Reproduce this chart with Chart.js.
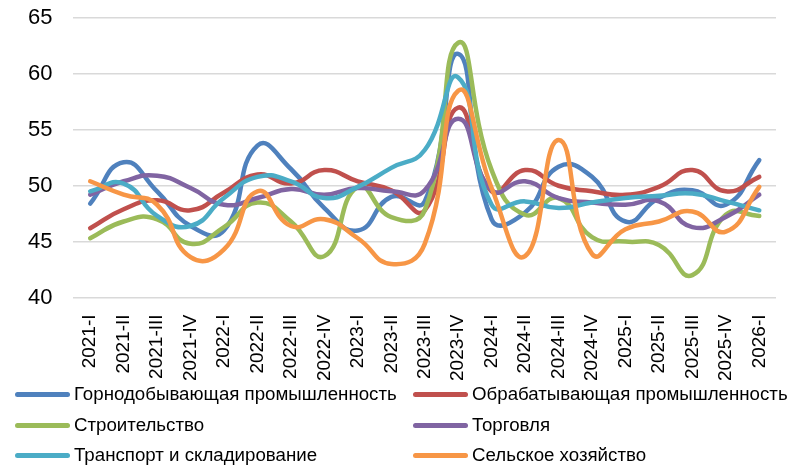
<!DOCTYPE html>
<html>
<head>
<meta charset="utf-8">
<script src="https://cdn.jsdelivr.net/npm/chart.js@4/dist/chart.umd.min.js"></script>
<style>
  html, body { margin: 0; padding: 0; background: #fff; overflow: hidden; }
  #wrap { position: relative; width: 802px; height: 465px; overflow: hidden; font-family: "Liberation Sans", Arial, sans-serif; }
  #chartBox { position: absolute; left: 0; top: -16px; width: 802px; height: 481px; }
  .lg { position: absolute; height: 20px; display: flex; align-items: center; font-size: 18.7px; color: #000; white-space: nowrap; }
  .lg .sw { display: inline-block; width: 55px; height: 5px; border-radius: 3px; margin-right: 4px; }
</style>
</head>
<body>
<div id="wrap">
  <div id="chartBox"><canvas id="c"></canvas></div>
  <div id="legend"></div>
</div>
<script>
const categories = ["2021-I","2021-II","2021-III","2021-IV","2022-I","2022-II","2022-III","2022-IV","2023-I","2023-II","2023-III","2023-IV","2024-I","2024-II","2024-III","2024-IV","2025-I","2025-II","2025-III","2025-IV","2026-I"];
const yTicks = [40, 45, 50, 55, 60, 65];

const seriesNames = ["Горнодобывающая промышленность","Обрабатывающая промышленность","Строительство","Торговля","Транспорт и складирование","Сельское хозяйство"];
const mining       = [48.4, 52.1, 49.5, 46.4, 46.0, 53.6, 51.5, 48.0, 46.0, 49.0, 48.6, 61.8, 47.0, 47.6, 51.7, 50.8, 46.8, 48.9, 49.6, 48.3, 52.3];
const manufacturing= [46.2, 47.9, 48.7, 47.8, 49.4, 51.0, 50.2, 51.4, 50.4, 49.6, 47.8, 57.0, 49.5, 51.4, 50.0, 49.5, 49.2, 49.9, 51.4, 49.5, 50.8];
const construction = [45.3, 46.8, 47.0, 44.8, 46.3, 48.5, 46.8, 43.7, 49.9, 47.2, 47.8, 62.8, 51.4, 47.4, 48.9, 45.4, 45.0, 44.7, 42.0, 47.4, 47.3];
const trade        = [49.2, 50.4, 50.9, 49.8, 48.3, 48.9, 49.7, 49.2, 49.8, 49.5, 49.6, 56.0, 49.6, 50.4, 48.9, 48.5, 48.3, 48.6, 46.3, 47.2, 49.2];
const transport    = [49.5, 50.2, 47.3, 46.4, 48.9, 50.8, 50.4, 48.9, 49.9, 51.6, 53.2, 59.7, 48.3, 48.6, 48.0, 48.5, 48.9, 49.1, 49.3, 48.6, 47.8];
const agriculture  = [50.4, 49.2, 48.3, 43.6, 44.3, 49.5, 46.4, 47.0, 45.3, 43.0, 44.8, 58.5, 49.8, 43.7, 54.1, 43.9, 46.1, 46.8, 47.7, 45.9, 49.9];

const colors = ["#4F81BD","#C0504D","#9BBB59","#8064A2","#4BACC6","#F79646"];
const seriesData = [mining, manufacturing, construction, trade, transport, agriculture];

const datasets = seriesData.map((d, i) => ({
  label: seriesNames[i],
  data: d,
  borderColor: colors[i],
  backgroundColor: colors[i],
  borderWidth: 4.5,
  borderCapStyle: 'round',
  borderJoinStyle: 'round',
  pointRadius: 0,
  pointHoverRadius: 0,
  tension: 0.5,
  fill: false,
  order: 5 - i
}));

new Chart(document.getElementById('c'), {
  type: 'line',
  data: { labels: categories, datasets },
  options: {
    responsive: true,
    maintainAspectRatio: false,
    animation: false,
    layout: { padding: { left: 7, right: 26, top: 5, bottom: 67 } },
    plugins: { legend: { display: false }, tooltip: { enabled: false } },
    scales: {
      x: {
        offset: true,
        grid: { display: false, drawTicks: false, offset: true },
        border: { display: false },
        ticks: {
          color: '#000',
          font: { family: 'Liberation Sans', size: 19 },
          maxRotation: 90, minRotation: 90,
          padding: 17,
          autoSkip: false
        }
      },
      y: {
        min: 40, max: 65,
        afterBuildTicks: (s) => { s.ticks = yTicks.map(v => ({ value: v })); },
        grid: { color: '#d9d9d9', lineWidth: 1.5, drawTicks: false },
        border: { display: false },
        ticks: {
          color: '#000',
          font: { family: 'Liberation Sans', size: 22 },
          padding: 21
        }
      }
    }
  }
});

// Legend (2 columns x 3 rows)
const legendPos = [
  { x: 15, y: 384 }, { x: 413, y: 384 },
  { x: 15, y: 415 }, { x: 413, y: 415 },
  { x: 15, y: 445 }, { x: 413, y: 445 }
];
const lg = document.getElementById('legend');
seriesNames.forEach((name, i) => {
  const el = document.createElement('div');
  el.className = 'lg';
  el.style.left = legendPos[i].x + 'px';
  el.style.top = legendPos[i].y + 'px';
  const sw = document.createElement('span');
  sw.className = 'sw';
  sw.style.background = colors[i];
  const tx = document.createElement('span');
  tx.textContent = name;
  el.appendChild(sw); el.appendChild(tx);
  lg.appendChild(el);
});
</script>
</body>
</html>
